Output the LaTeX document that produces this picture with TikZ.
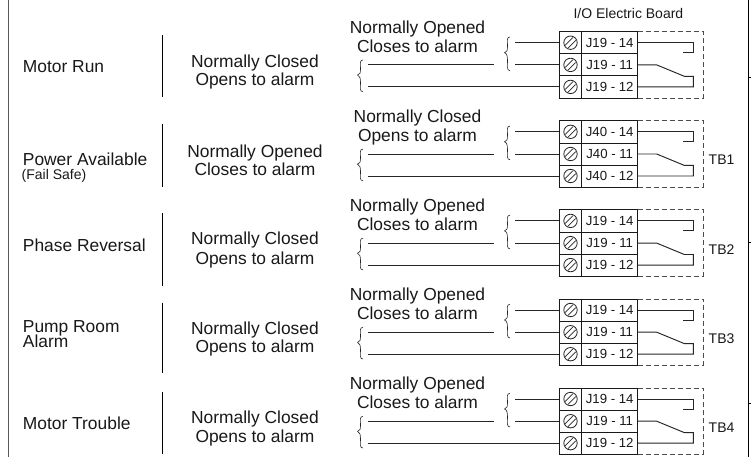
\documentclass[tikz,border=0pt]{standalone}
\usepackage{fontspec}
\setmainfont{Liberation Sans}
\tikzset{
  x=1pt,y=-1pt,
  wire/.style={line width=0.95pt,black!85},
  frameline/.style={line width=1pt,black!65},
  divider/.style={line width=1pt,black},
  boxline/.style={line width=0.95pt,black!90},
  dashbox/.style={line width=0.85pt,black!70,dash pattern=on 5pt off 3pt},
  bigtxt/.style={font=\fontsize{17.4}{19}\selectfont,anchor=base,inner sep=0pt,text=black!90},
  lefttxt/.style={font=\fontsize{17.4}{19}\selectfont,anchor=base west,inner sep=0pt,text=black!90},
  smalltxt/.style={font=\fontsize{14}{15}\selectfont,anchor=base west,inner sep=0pt,text=black!90},
  termtxt/.style={font=\fontsize{13.2}{14}\selectfont,anchor=base,inner sep=0pt,text=black!90},
  tbtxt/.style={font=\fontsize{14}{15}\selectfont,anchor=base west,inner sep=0pt,text=black!90},
  boardtxt/.style={font=\fontsize{14}{15}\selectfont,anchor=base,inner sep=0pt,text=black!90},
  screw/.style={circle,draw=black!85,line width=0.8pt,minimum size=13.4pt,inner sep=0pt},
}
\newcommand{\termblock}[5]{% id, top, connector, upper text, lower text
  \begin{scope}[shift={(0,#2)}]
    \node[bigtxt] (#1up) at (417.5,1.7) {#4};
    \node[bigtxt] (#1lo) at (417.5,20.7) {#5};
    \draw[boxline] (559.3,0) rectangle (637.7,66.4);
    \draw[boxline] (559.3,22.2) -- (637.7,22.2) (559.3,44.2) -- (637.7,44.2) (581.7,0) -- (581.7,66.4);
    \draw[dashbox] (637.7,0) -- (703.3,0) -- (703.3,66.4) -- (637.7,66.4);
    \foreach \n/\y/\p in {a/11/14,b/33.2/11,c/55.2/12}{
      \coordinate (#1\n L) at (559.3,\y);
      \coordinate (#1\n R) at (637.7,\y);
      \node[screw] (#1\n S) at (570.5,\y) {};
      \draw[line width=0.7pt,black!85] (#1\n S.center) ++(-5.4,2.6) -- ++(7.8,-7.8);
      \draw[line width=0.7pt,black!85] (#1\n S.center) ++(-2.6,5.4) -- ++(7.8,-7.8);
      \node[termtxt] (#1\n T) at (609.7,\y+4.7) {#3 - \p};
    }
    \coordinate (#1as) at (515,11);
    \coordinate (#1bs) at (515,33.2);
    \coordinate (#1bw) at (368,33.2);
    \coordinate (#1be) at (494,33.2);
    \coordinate (#1cs) at (368,55.2);
    \draw[wire] (#1as) -- (#1aL) (#1bs) -- (#1bL) (#1bw) -- (#1be) (#1cs) -- (#1cL);
    \draw[wire] (#1aR) -- (693.3,11) -- (693.3,21) -- (683.3,21);
    \draw[wire] (#1bR) -- (656.7,33.2) -- (684.3,44.6) -- (693.3,44.6) -- (693.3,55.2) -- (#1cR);
    \draw[line width=0.6pt,black!85] (510,5.3) .. controls (506.5,5.3) and (507.5,9) .. (507.5,14) .. controls (507.5,19) and (507,20.4) .. (504.5,21) .. controls (507,21.6) and (507.5,25) .. (507.5,29) .. controls (507.5,34) and (506.5,39) .. (510,39);
    \draw[line width=0.6pt,black!85] (363,28.3) .. controls (359.5,28.3) and (360.5,32) .. (360.5,37) .. controls (360.5,41.5) and (360,42.7) .. (357.5,43.3) .. controls (360,43.9) and (360.5,47) .. (360.5,51) .. controls (360.5,56) and (359.5,60) .. (363,60);
  \end{scope}
}
\newcommand{\statuspair}[5]{% id, baseline1, text1, baseline2, text2
  \node[bigtxt] (#1one) at (255,#2) {#3};
  \node[bigtxt] (#1two) at (255,#4) {#5};
}
\begin{document}
\begin{tikzpicture}
\useasboundingbox (0,0) rectangle (751,457);
\fill[white] (0,0) rectangle (751,457);
\coordinate (fl1) at (8.5,0); \coordinate (fl2) at (8.5,457);
\coordinate (fr1) at (748.7,0); \coordinate (fr2) at (748.7,457);
\draw[frameline] (fl1) -- (fl2);
\draw[line width=1.2pt,black] (fr1) -- (fr2);
\foreach \t in {77,242,403}{
  \coordinate (tk) at (751,\t);
  \draw[line width=0.8pt,black] (fr1 |- tk) -- (tk);
}
\node[boardtxt] (board) at (628.4,18.5) {I/O Electric Board};
\termblock{r}{31.7}{J19}{Normally Opened}{Closes to alarm}
\termblock{s}{120.8}{J40}{Normally Closed}{Opens to alarm}
\termblock{t}{209.9}{J19}{Normally Opened}{Closes to alarm}
\termblock{u}{299}{J19}{Normally Opened}{Closes to alarm}
\termblock{v}{388}{J19}{Normally Opened}{Closes to alarm}
\node[tbtxt] (tb1) at (708.5,164.8) {TB1};
\node[tbtxt] (tb2) at (708.5,254) {TB2};
\node[tbtxt] (tb3) at (708.5,343) {TB3};
\node[tbtxt] (tb4) at (708.5,432) {TB4};
\node[lefttxt] (l1) at (22.7,73) {Motor Run};
\node[lefttxt] (l2) at (22.7,165) {Power Available};
\node[smalltxt] (l2b) at (21.5,179) {(Fail Safe)};
\node[lefttxt] (l3) at (22.7,251) {Phase Reversal};
\node[lefttxt] (l4) at (22.7,332.3) {Pump Room};
\node[lefttxt] (l4b) at (22.7,347.7) {Alarm};
\node[lefttxt] (l5) at (22.7,429.3) {Motor Trouble};
\foreach \n/\a/\b in {a/35/97.5,b/124/186.5,c/213.3/286,d/302.7/373,e/391.7/454}{
  \coordinate (\n1) at (162,\a); \coordinate (\n2) at (162,\b);
  \draw[divider] (\n1) -- (\n2);
}
\statuspair{p}{67.7}{Normally Closed}{86}{Opens to alarm}
\statuspair{q}{157.7}{Normally Opened}{175.7}{Closes to alarm}
\statuspair{w}{244.3}{Normally Closed}{264}{Opens to alarm}
\statuspair{x}{334}{Normally Closed}{352.7}{Opens to alarm}
\statuspair{y}{423.3}{Normally Closed}{442.3}{Opens to alarm}
\end{tikzpicture}
\end{document}
